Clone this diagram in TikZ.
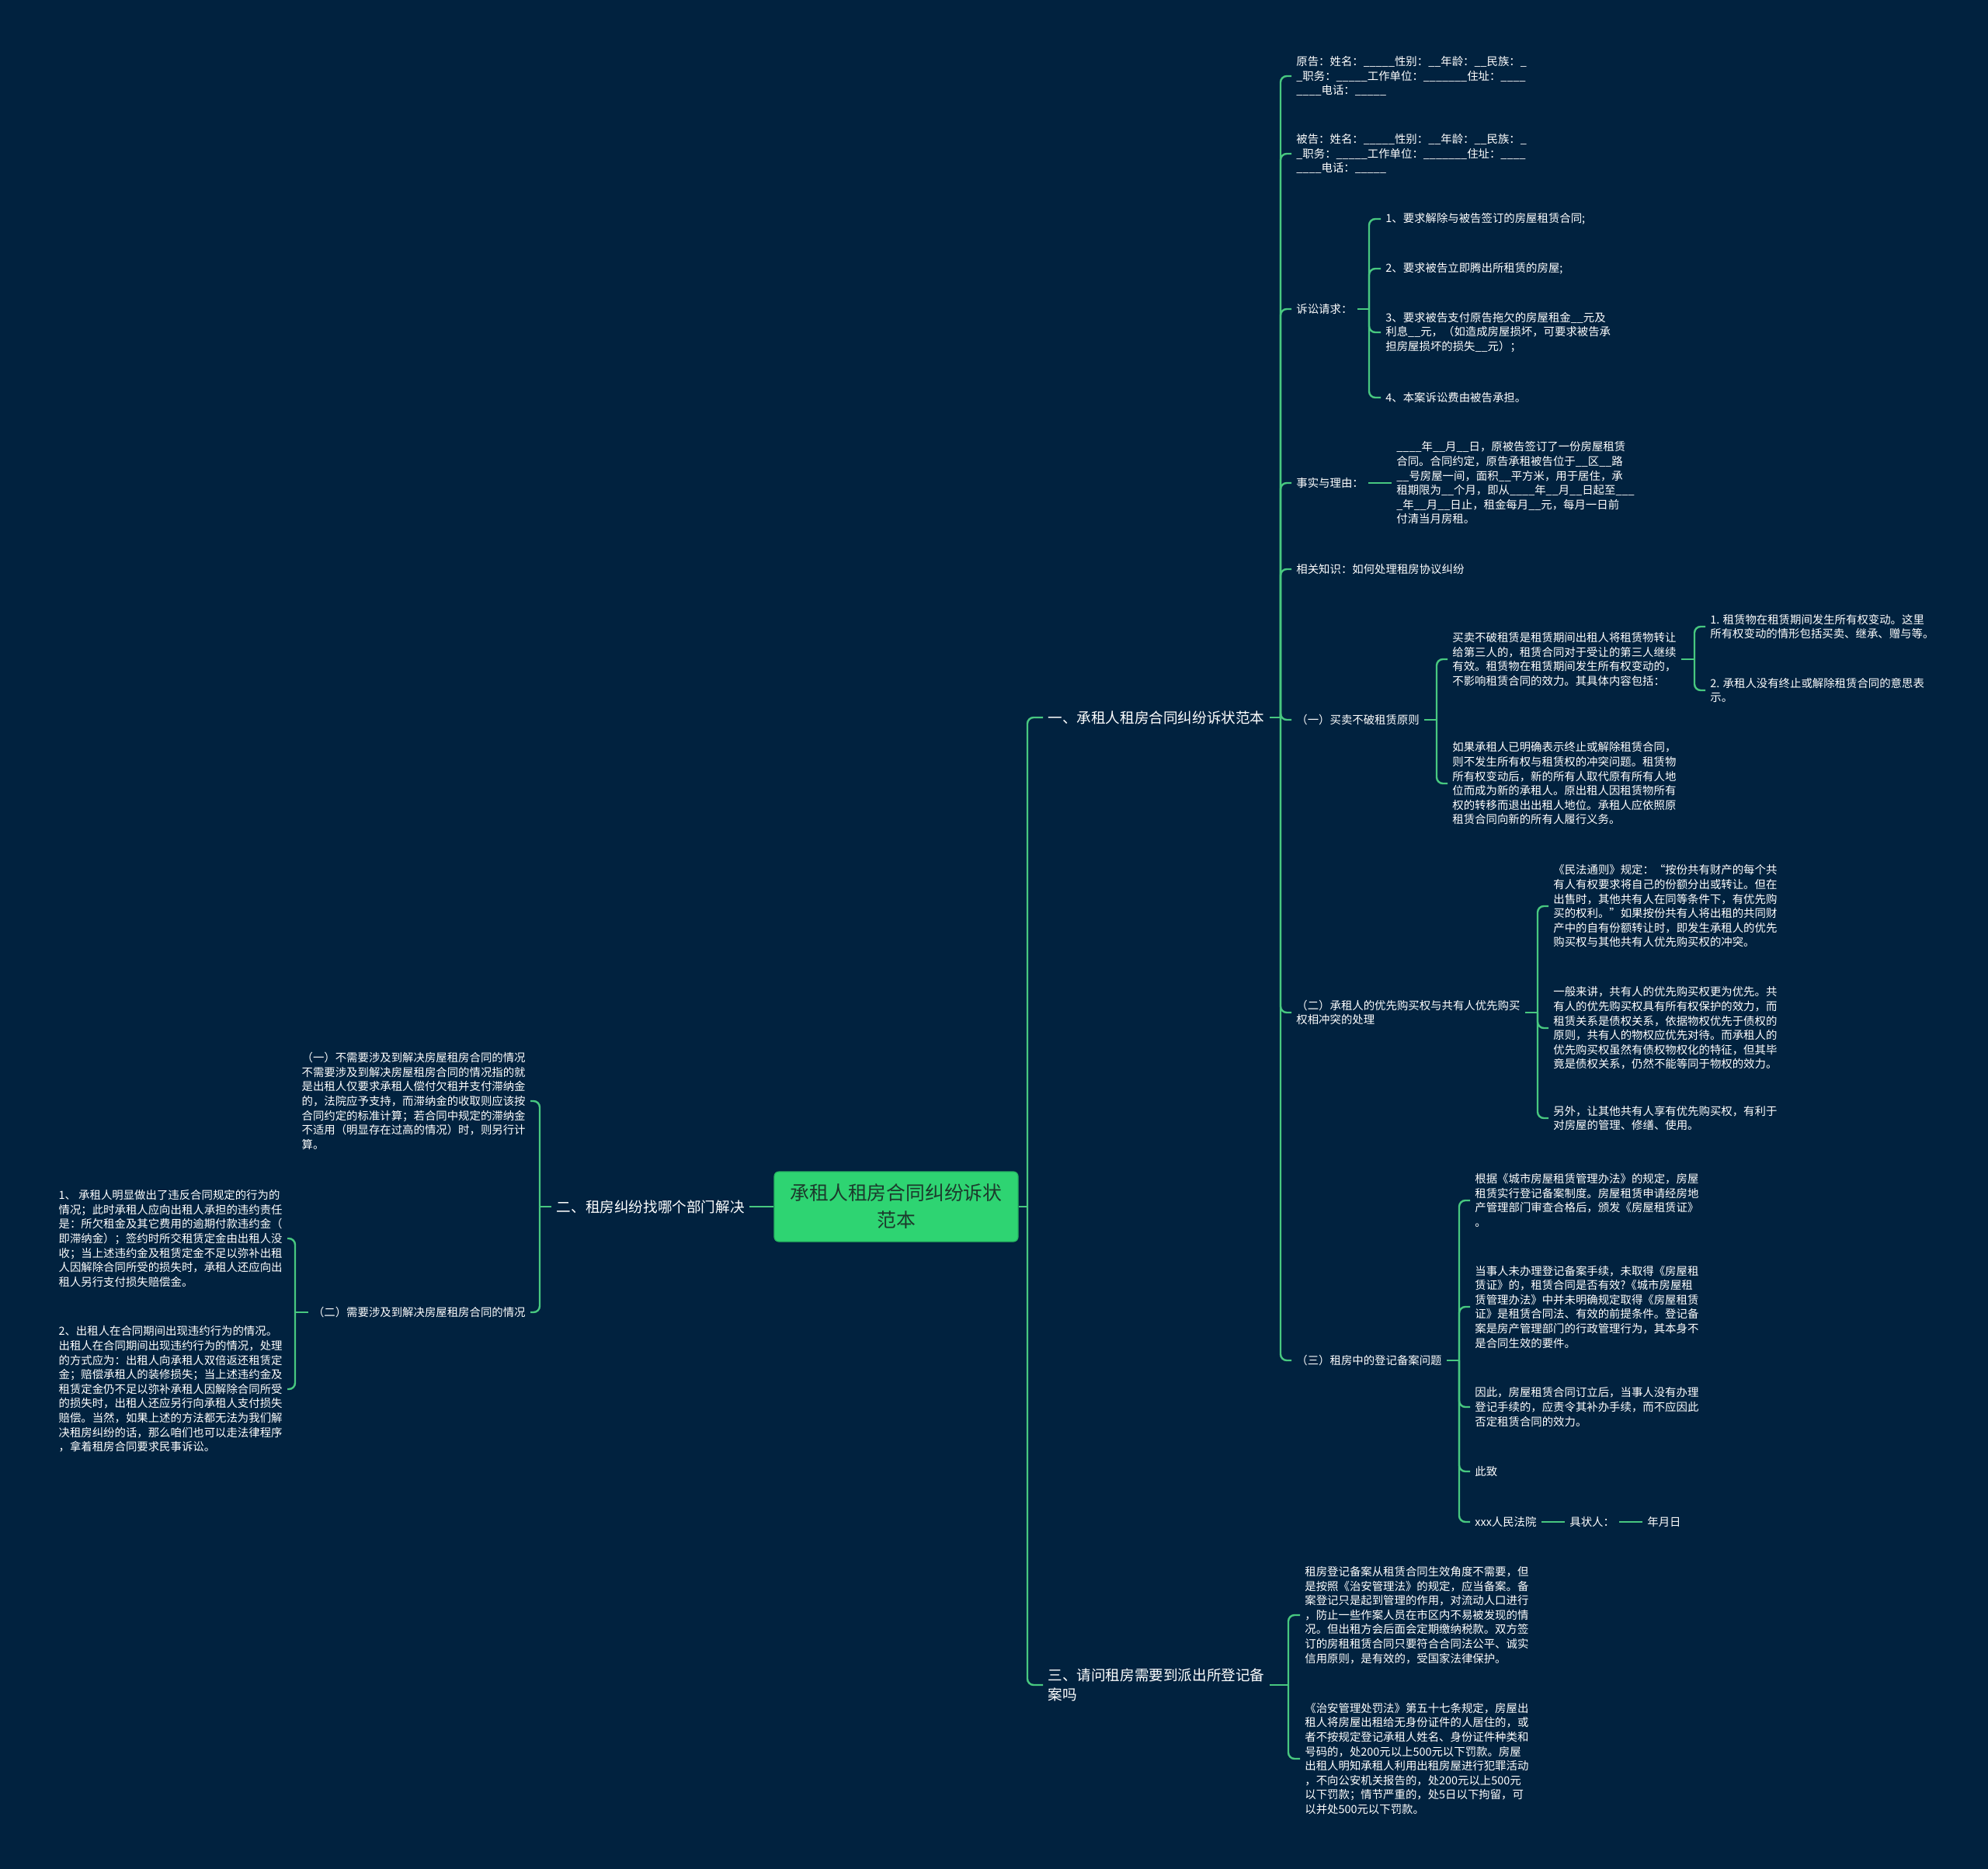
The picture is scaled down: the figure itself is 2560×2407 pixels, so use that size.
\documentclass[tikz,border=0pt]{standalone}
\usepackage{fontspec}
\setmainfont{Noto Sans CJK SC}
\definecolor{mapbg}{RGB}{1,34,63}
\definecolor{mapline}{RGB}{72,200,128}
\definecolor{rootfill}{RGB}{46,212,114}
\definecolor{roottext}{RGB}{28,58,44}

\begin{document}
\begin{tikzpicture}[x=0.5pt,y=-0.5pt,
    every node/.style={text=white,inner xsep=3pt,inner ysep=1pt,align=left,font=\fontsize{7.2}{9.3}\selectfont},
    leaf/.style={anchor=west},
    leafl/.style={anchor=east},
    topic/.style={font=\fontsize{9.3}{12.5}\selectfont},
    link/.style={mapline,line width=1.2pt,rounded corners=4pt}]
  \useasboundingbox (0,0) rectangle (2560,2407);
  \fill[mapbg] (0,0) rectangle (2560,2407);
  % Root
  \node[fill=rootfill,draw=rootfill!85!black,line width=0.6pt,rounded corners=3pt,
    minimum width=157pt,minimum height=45pt,align=center,text=roottext,
    font=\fontsize{12.4}{17.5}\selectfont] (root) at (1154,1554) {承租人租房合同纠纷诉状\\范本};
  % Main branches
  \node[leaf,topic] (one) at (1343,924) {一、承租人租房合同纠纷诉状范本};
  \node[leaf,topic] (three) at (1343,2170) {三、请问租房需要到派出所登记备\\案吗};
  \node[leafl,topic] (two) at (965,1554) {二、租房纠纷找哪个部门解决};
  \coordinate (jr) at (1323,1554);
  \coordinate (jl) at (695,1554);

  % Branch one
  \node[leaf] (a1) at (1663,98) {原告：姓名：\_\_\_\_\_性别：\_\_年龄：\_\_民族：\_\\\_职务：\_\_\_\_\_工作单位：\_\_\_\_\_\_\_住址：\_\_\_\_\\\_\_\_\_电话：\_\_\_\_\_};
  \node[leaf] (a2) at (1663,198) {被告：姓名：\_\_\_\_\_性别：\_\_年龄：\_\_民族：\_\\\_职务：\_\_\_\_\_工作单位：\_\_\_\_\_\_\_住址：\_\_\_\_\\\_\_\_\_电话：\_\_\_\_\_};
  \node[leaf] (a3) at (1663,398) {诉讼请求：};
  \node[leaf] (a4) at (1663,622) {事实与理由：};
  \node[leaf] (a5) at (1663,733) {相关知识：如何处理租房协议纠纷};
  \node[leaf] (a6) at (1663,927) {（一）买卖不破租赁原则};
  \node[leaf] (a7) at (1663,1304) {（二）承租人的优先购买权与共有人优先购买\\权相冲突的处理};
  \node[leaf] (a8) at (1663,1752) {（三）租房中的登记备案问题};
  \coordinate (jo) at (1649,924);

  % Claims
  \node[leaf] (b1) at (1778,282) {1、要求解除与被告签订的房屋租赁合同;};
  \node[leaf] (b2) at (1778,346) {2、要求被告立即腾出所租赁的房屋;};
  \node[leaf] (b3) at (1778,428) {3、要求被告支付原告拖欠的房屋租金\_\_元及\\利息\_\_元，（如造成房屋损坏，可要求被告承\\担房屋损坏的损失\_\_元）；};
  \node[leaf] (b4) at (1778,512) {4、本案诉讼费由被告承担。};
  \coordinate (jc) at (1763,398);

  % Facts
  \node[leaf] (d1) at (1792,622) {\_\_\_\_年\_\_月\_\_日，原被告签订了一份房屋租赁\\合同。合同约定，原告承租被告位于\_\_区\_\_路\\\_\_号房屋一间，面积\_\_平方米，用于居住，承\\租期限为\_\_个月，即从\_\_\_\_年\_\_月\_\_日起至\_\_\_\\\_年\_\_月\_\_日止，租金每月\_\_元，每月一日前\\付清当月房租。};

  % Sale does not break lease
  \node[leaf] (e1) at (1864,849) {买卖不破租赁是租赁期间出租人将租赁物转让\\给第三人的，租赁合同对于受让的第三人继续\\有效。租赁物在租赁期间发生所有权变动的，\\不影响租赁合同的效力。其具体内容包括：};
  \node[leaf] (e2) at (1864,1009) {如果承租人已明确表示终止或解除租赁合同，\\则不发生所有权与租赁权的冲突问题。租赁物\\所有权变动后，新的所有人取代原有所有人地\\位而成为新的承租人。原出租人因租赁物所有\\权的转移而退出出租人地位。承租人应依照原\\租赁合同向新的所有人履行义务。};
  \coordinate (jp) at (1850,927);
  \node[leaf] (f1) at (2196,807) {1. 租赁物在租赁期间发生所有权变动。这里\\所有权变动的情形包括买卖、继承、赠与等。};
  \node[leaf] (f2) at (2196,889) {2. 承租人没有终止或解除租赁合同的意思表\\示。};
  \coordinate (js) at (2182,849);

  % Priority purchase
  \node[leaf] (g1) at (1994,1167) {《民法通则》规定：“按份共有财产的每个共\\有人有权要求将自己的份额分出或转让。但在\\出售时，其他共有人在同等条件下，有优先购\\买的权利。”如果按份共有人将出租的共同财\\产中的自有份额转让时，即发生承租人的优先\\购买权与其他共有人优先购买权的冲突。};
  \node[leaf] (g2) at (1994,1324) {一般来讲，共有人的优先购买权更为优先。共\\有人的优先购买权具有所有权保护的效力，而\\租赁关系是债权关系，依据物权优先于债权的\\原则，共有人的物权应优先对待。而承租人的\\优先购买权虽然有债权物权化的特征，但其毕\\竟是债权关系，仍然不能等同于物权的效力。};
  \node[leaf] (g3) at (1994,1440) {另外，让其他共有人享有优先购买权，有利于\\对房屋的管理、修缮、使用。};
  \coordinate (jq) at (1980,1304);

  % Filing
  \node[leaf] (h1) at (1893,1546) {根据《城市房屋租赁管理办法》的规定，房屋\\租赁实行登记备案制度。房屋租赁申请经房地\\产管理部门审查合格后，颁发《房屋租赁证》\\。};
  \node[leaf] (h2) at (1893,1683) {当事人未办理登记备案手续，未取得《房屋租\\赁证》的，租赁合同是否有效?《城市房屋租\\赁管理办法》中并未明确规定取得《房屋租赁\\证》是租赁合同法、有效的前提条件。登记备\\案是房产管理部门的行政管理行为，其本身不\\是合同生效的要件。};
  \node[leaf] (h3) at (1893,1812) {因此，房屋租赁合同订立后，当事人没有办理\\登记手续的，应责令其补办手续，而不应因此\\否定租赁合同的效力。};
  \node[leaf] (h4) at (1893,1895) {此致};
  \node[leaf] (h5) at (1893,1960) {xxx人民法院};
  \node[leaf] (k1) at (2015,1960) {具状人：};
  \node[leaf] (k2) at (2115,1960) {年月日};
  \coordinate (jf) at (1879,1752);

  % Branch three
  \node[leaf] (i1) at (1674,2080) {租房登记备案从租赁合同生效角度不需要，但\\是按照《治安管理法》的规定，应当备案。备\\案登记只是起到管理的作用，对流动人口进行\\，防止一些作案人员在市区内不易被发现的情\\况。但出租方会后面会定期缴纳税款。双方签\\订的房租租赁合同只要符合合同法公平、诚实\\信用原则，是有效的，受国家法律保护。};
  \node[leaf] (i2) at (1674,2265) {《治安管理处罚法》第五十七条规定，房屋出\\租人将房屋出租给无身份证件的人居住的，或\\者不按规定登记承租人姓名、身份证件种类和\\号码的，处200元以上500元以下罚款。房屋\\出租人明知承租人利用出租房屋进行犯罪活动\\，不向公安机关报告的，处200元以上500元\\以下罚款；情节严重的，处5日以下拘留，可\\以并处500元以下罚款。};
  \coordinate (jt) at (1659,2170);

  % Branch two (left)
  \node[leafl] (l1) at (683,1418) {（一）不需要涉及到解决房屋租房合同的情况\\不需要涉及到解决房屋租房合同的情况指的就\\是出租人仅要求承租人偿付欠租并支付滞纳金\\的，法院应予支持，而滞纳金的收取则应该按\\合同约定的标准计算；若合同中规定的滞纳金\\不适用（明显存在过高的情况）时，则另行计\\算。};
  \node[leafl] (l2) at (683,1690) {（二）需要涉及到解决房屋租房合同的情况};
  \node[leafl] (m1) at (370,1595) {1、 承租人明显做出了违反合同规定的行为的\\情况；此时承租人应向出租人承担的违约责任\\是：所欠租金及其它费用的逾期付款违约金（\\即滞纳金）；签约时所交租赁定金由出租人没\\收；当上述违约金及租赁定金不足以弥补出租\\人因解除合同所受的损失时，承租人还应向出\\租人另行支付损失赔偿金。};
  \node[leafl] (m2) at (370,1789) {2、出租人在合同期间出现违约行为的情况。\\出租人在合同期间出现违约行为的情况，处理\\的方式应为：出租人向承租人双倍返还租赁定\\金；赔偿承租人的装修损失；当上述违约金及\\租赁定金仍不足以弥补承租人因解除合同所受\\的损失时，出租人还应另行向承租人支付损失\\赔偿。当然，如果上述的方法都无法为我们解\\决租房纠纷的话，那么咱们也可以走法律程序\\，拿着租房合同要求民事诉讼。};
  \coordinate (jb) at (380,1690);

  % Connectors
  \draw[link] (root) -- (jr);
  \draw[link] (two) -- (root);
  \draw[link] (two) -- (jl);
  \foreach \n in {one,three} \draw[link] (jr) |- (\n.west);
  \foreach \n in {l1,l2} \draw[link] (jl) |- (\n.east);
  \draw[link] (one) -- (jo);
  \foreach \n in {a1,a2,a3,a4,a5,a6,a7,a8} \draw[link] (jo) |- (\n.west);
  \draw[link] (a3) -- (jc);
  \foreach \n in {b1,b2,b3,b4} \draw[link] (jc) |- (\n.west);
  \draw[link] (a4) -- (d1);
  \draw[link] (a6) -- (jp);
  \foreach \n in {e1,e2} \draw[link] (jp) |- (\n.west);
  \draw[link] (e1) -- (js);
  \foreach \n in {f1,f2} \draw[link] (js) |- (\n.west);
  \draw[link] (a7) -- (jq);
  \foreach \n in {g1,g2,g3} \draw[link] (jq) |- (\n.west);
  \draw[link] (a8) -- (jf);
  \foreach \n in {h1,h2,h3,h4,h5} \draw[link] (jf) |- (\n.west);
  \draw[link] (h5) -- (k1);
  \draw[link] (k1) -- (k2);
  \draw[link] (three) -- (jt);
  \foreach \n in {i1,i2} \draw[link] (jt) |- (\n.west);
  \draw[link] (l2) -- (jb);
  \foreach \n in {m1,m2} \draw[link] (jb) |- (\n.east);
\end{tikzpicture}
\end{document}
